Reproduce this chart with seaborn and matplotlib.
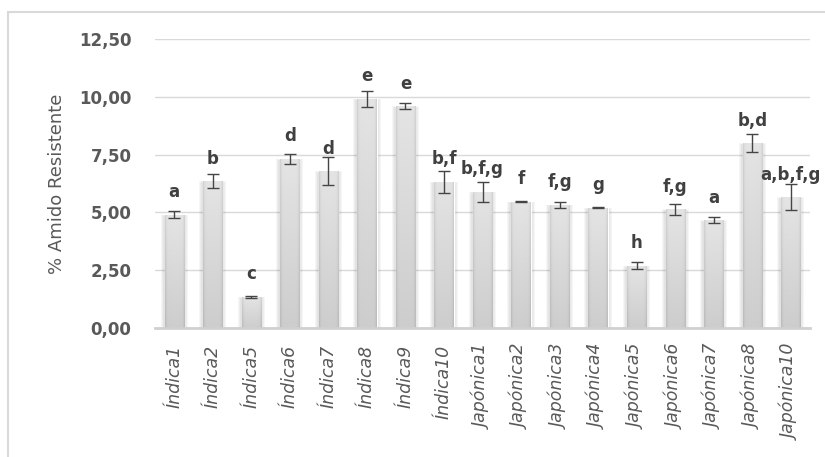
import numpy as np
import pandas as pd
import matplotlib
matplotlib.use("Agg")
import matplotlib.pyplot as plt
import seaborn as sns
from matplotlib.patches import Rectangle

# Resistant starch content per rice cultivar (mean ± sd) with Tukey letters
cultivares = ["Índica1", "Índica2", "Índica5", "Índica6", "Índica7", "Índica8",
              "Índica9", "Índica10", "Japónica1", "Japónica2", "Japónica3",
              "Japónica4", "Japónica5", "Japónica6", "Japónica7", "Japónica8",
              "Japónica10"]
amido = [4.90, 6.34, 1.35, 7.32, 6.79, 9.92, 9.60, 6.33, 5.90, 5.46, 5.33,
         5.20, 2.70, 5.13, 4.67, 7.99, 5.66]
desvio = [0.16, 0.30, 0.05, 0.22, 0.59, 0.35, 0.12, 0.48, 0.43, 0.02, 0.12,
          0.02, 0.14, 0.24, 0.12, 0.39, 0.56]
letras = ["a", "b", "c", "d", "d", "e", "e", "b,f", "b,f,g", "f", "f,g", "g",
          "h", "f,g", "a", "b,d", "a,b,f,g"]
yticks = [0.0, 2.5, 5.0, 7.5, 10.0, 12.5]

sns.set_theme(style="white")
plt.rcParams["font.family"] = ["DejaVu Sans"]

W, H = 825, 457
fig = plt.figure(figsize=(W / 100, H / 100), dpi=100)
ax = fig.add_axes([155 / W, 1 - 328 / H, (810 - 155) / W, (328 - 39) / H])

df = pd.DataFrame({"cultivar": cultivares, "amido": amido})
sns.barplot(data=df, x="cultivar", y="amido", color="#e0e0e0", width=0.5,
            errorbar=None, ax=ax, zorder=3)

# gradient fill and soft side shadow for each bar
px_x = 17 / (810 - 155)       # data units per pixel, x
px_y = 12.5 / (328 - 39)      # data units per pixel, y
ny, nx = 64, 32
t = np.linspace(0, 1, ny)[:, None]
u = np.linspace(-1, 1, nx)[None, :]
shade = 0.895 - 0.09 * t - 0.08 * np.abs(u) ** 8
grad = np.dstack([shade, shade, shade])
for p in list(ax.patches):
    x0, w, h = p.get_x(), p.get_width(), p.get_height()
    for k in range(1, 5):
        ax.add_patch(Rectangle((x0 - k * px_x, 0), w + 2 * k * px_x,
                               max(h - 2 * px_y + k * px_y * 0.5, 0),
                               facecolor="black", edgecolor="none",
                               alpha=0.035, zorder=2))
    im = ax.imshow(grad, extent=[x0, x0 + w, 0, h], aspect="auto",
                   interpolation="bilinear", zorder=3.5)
    im.set_clip_path(p)

ax.errorbar(x=np.arange(len(amido)), y=amido, yerr=desvio, fmt="none",
            ecolor="#454545", elinewidth=1, capsize=4, capthick=1, zorder=5)

for i, (v, lt) in enumerate(zip(amido, letras)):
    ax.annotate(lt, (i, v), xytext=(0, 12.5), textcoords="offset points",
                ha="center", va="baseline", fontsize=12, fontweight="bold",
                color="#404040", zorder=6)

ax.set_xlim(-0.5, len(cultivares) - 0.5)
ax.set_ylim(0, 12.5)
ax.set_yticks(yticks)
ax.set_yticklabels([f"{v:.2f}".replace(".", ",") for v in yticks],
                   fontsize=12, fontweight="bold", color="#595959")
ax.set_xticks(range(len(cultivares)))
ax.set_xticklabels(cultivares, rotation=90, fontsize=12.5, style="italic",
                   color="#595959")
ax.tick_params(axis="y", length=0, pad=17)
ax.tick_params(axis="x", length=0, pad=12)
ax.set_xlabel("")
ax.set_ylabel("")
ax.yaxis.grid(True, color="#d9d9d9", lw=1, zorder=0)
ax.set_axisbelow(True)
for s in ["top", "right", "left"]:
    ax.spines[s].set_visible(False)
ax.spines["bottom"].set_color("#d0d0d0")
ax.spines["bottom"].set_linewidth(2)
ax.spines["bottom"].set_zorder(7)

fig.text(57 / W, 1 - 183.5 / H, "% Amido Resistente", rotation=90,
         ha="center", va="center", fontsize=13, color="#595959")

# chart-area frame
fig.patches.append(Rectangle((8 / W, -0.1), 1.2, 1 - 12 / H + 0.1,
                             transform=fig.transFigure, fill=False,
                             edgecolor="#d9d9d9", lw=1.5))

fig.savefig("out.png", dpi=100)
